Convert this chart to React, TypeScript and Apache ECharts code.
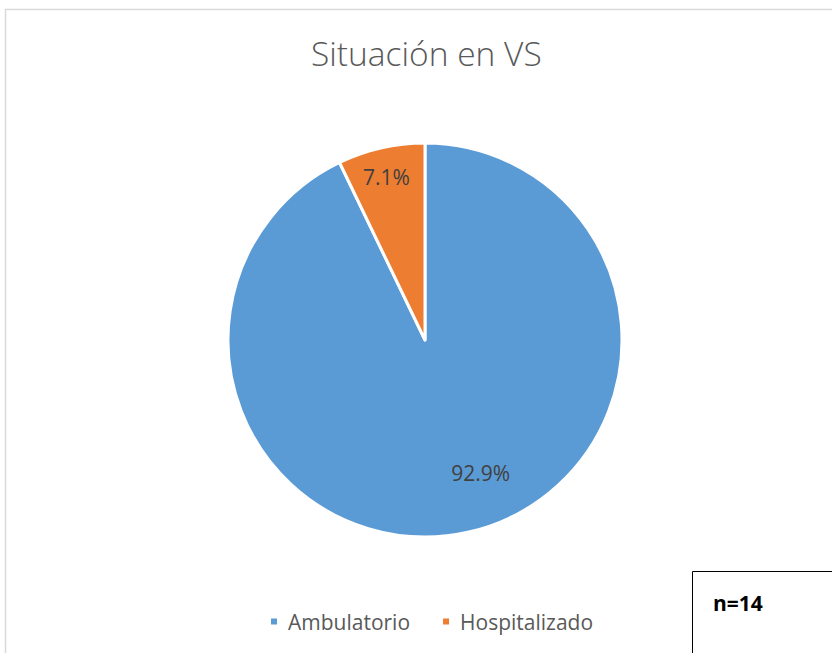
import React, { useEffect, useRef } from "react";
import * as echarts from "echarts";

const categories = ["Ambulatorio", "Hospitalizado"];
const values = [13, 1];
const colors = ["#5B9BD5", "#ED7D31"];
const titleText = "Situación en VS";
const noteText = "n=14";

export default function App() {
  const ref = useRef<HTMLDivElement>(null);
  useEffect(() => {
    document.body.style.margin = "0";
    const chart = echarts.init(ref.current!, null, { renderer: "svg" });
    const offsets = [
      [33, 34],
      [-16, -64],
    ];
    chart.setOption({
      animation: false,
      backgroundColor: "#ffffff",
      title: {
        text: titleText,
        left: 306,
        top: 31,
        textStyle: {
          fontFamily: "Open Sans",
          fontWeight: 300,
          fontSize: 33.5,
          color: "#595959",
        },
      },
      legend: {
        data: categories,
        bottom: 16,
        left: 264,
        icon: "rect",
        itemWidth: 8,
        itemHeight: 8,
        itemGap: 31,
        textStyle: {
          fontFamily: "Open Sans",
          fontSize: 21,
          color: "#595959",
          padding: [0, 0, 0, 5],
        },
      },
      graphic: [
        {
          type: "rect",
          shape: { x: 5.5, y: 9.5, width: 900, height: 700 },
          style: { fill: "none", stroke: "#d9d9d9", lineWidth: 1.5 },
          z: -1,
        },
        {
          type: "rect",
          shape: { x: 692.5, y: 571.5, width: 200, height: 120 },
          style: { fill: "#ffffff", stroke: "#000000", lineWidth: 1 },
          z: 10,
        },
        {
          type: "text",
          x: 713,
          y: 603,
          z: 11,
          style: {
            text: noteText,
            fontFamily: "Open Sans",
            fontWeight: "bold",
            fontSize: 21,
            fill: "#000000",
            verticalAlign: "middle",
          },
        },
      ],
      series: [
        {
          type: "pie",
          center: [425, 340],
          radius: 197,
          startAngle: 90,
          clockwise: true,
          percentPrecision: 1,
          itemStyle: { borderColor: "#ffffff", borderWidth: 3 },
          label: {
            show: true,
            position: "inside",
            formatter: "{d}%",
            fontFamily: "Open Sans",
            fontSize: 21,
            color: "#404040",
          },
          labelLine: { show: false },
          emphasis: { disabled: true },
          data: categories.map((name, i) => ({
            name,
            value: values[i],
            itemStyle: { color: colors[i] },
            label: { offset: offsets[i] },
          })),
        },
      ],
    });
    return () => chart.dispose();
  }, []);
  return (
    <div
      ref={ref}
      style={{ position: "fixed", left: 0, top: 0, width: 832, height: 653 }}
    />
  );
}
